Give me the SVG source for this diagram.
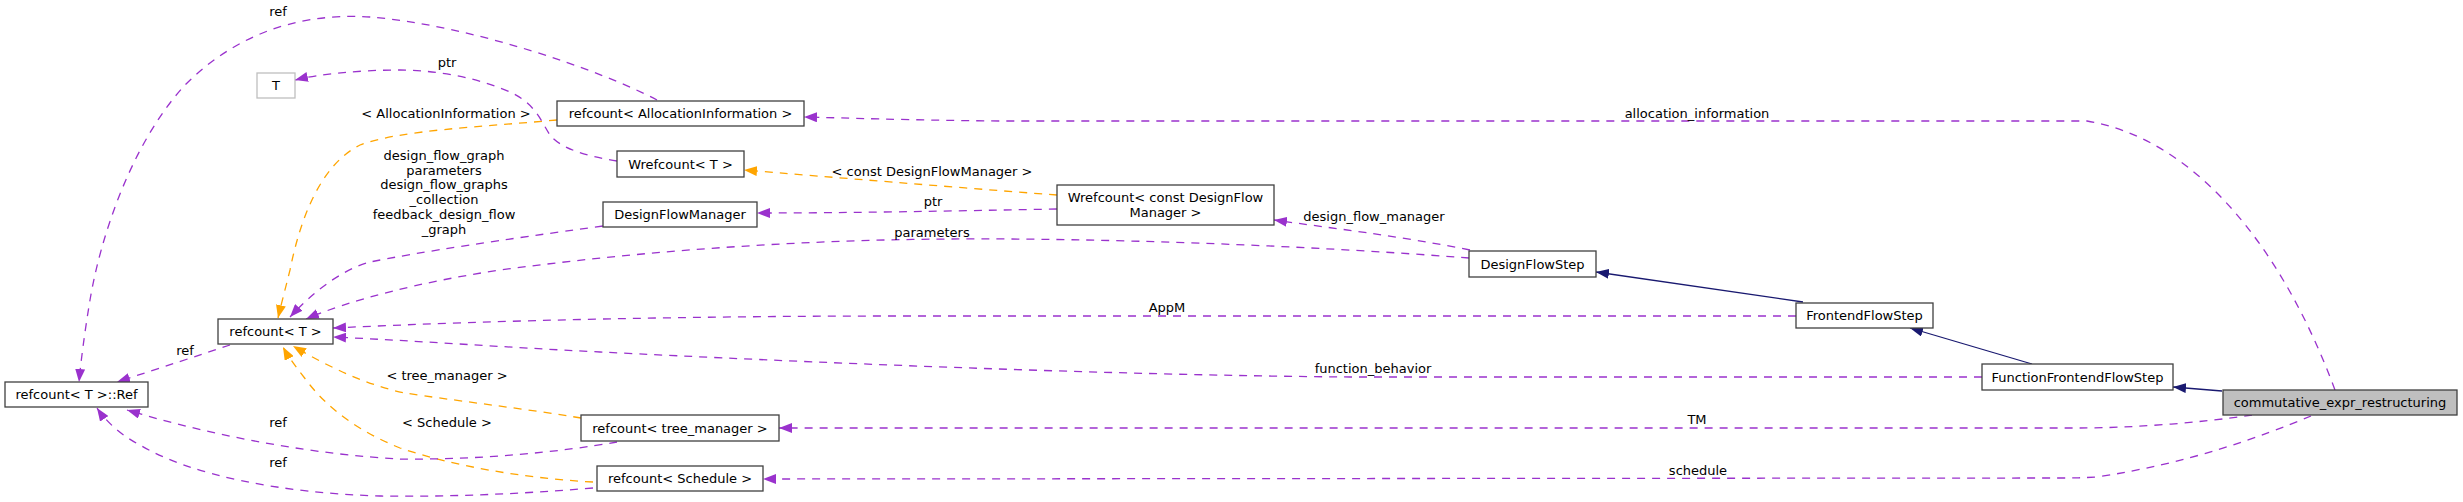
<svg xmlns="http://www.w3.org/2000/svg" width="2463" height="502" viewBox="0 0 2463 502">
<style>
text{font-family:"DejaVu Sans","Liberation Sans",sans-serif;font-size:13px;fill:#000;text-anchor:middle}
.box{fill:#fff;stroke:#404040;stroke-width:1.3}
.gbox{fill:#fff;stroke:#bfbfbf;stroke-width:1.3}
.cur{fill:#bfbfbf;stroke:#404040;stroke-width:1.3}
.p{fill:none;stroke:#9a32cd;stroke-width:1.3;stroke-dasharray:8,7;marker-end:url(#ap)}
.o{fill:none;stroke:#ffa500;stroke-width:1.3;stroke-dasharray:8,7;marker-end:url(#ao)}
.n{fill:none;stroke:#191970;stroke-width:1.3;marker-end:url(#an)}
</style>
<defs>
<marker id="ap" viewBox="0 0 13 10" refX="13" refY="5" markerWidth="13" markerHeight="10" markerUnits="userSpaceOnUse" orient="auto"><path d="M0,0L13,5L0,10z" fill="#9a32cd"/></marker>
<marker id="ao" viewBox="0 0 13 10" refX="13" refY="5" markerWidth="13" markerHeight="10" markerUnits="userSpaceOnUse" orient="auto"><path d="M0,0L13,5L0,10z" fill="#ffa500"/></marker>
<marker id="an" viewBox="0 0 13 10" refX="13" refY="5" markerWidth="13" markerHeight="10" markerUnits="userSpaceOnUse" orient="auto"><path d="M0,0L13,5L0,10z" fill="#191970"/></marker>
</defs>
<rect width="2463" height="502" fill="#fff"/>
<g id="connectors">
<path class="n" d="M2222,391L2173,387"/>
<path class="n" d="M2032,364L1910,328"/>
<path class="n" d="M1803,302L1596,272"/>
<path class="p" d="M2335,390C2285,255 2200,140 2087,121L1000,121C900,120 850,118 804,117"/>
<path class="p" d="M2252,415C2200,423 2130,428 2080,428L779,428"/>
<path class="p" d="M2311,416C2260,437 2190,463 2097,477C2080,478 2070,478 2050,478L763,479"/>
<path class="p" d="M1982,377L1350,377C1100,375 800,362 600,352C500,347 420,341 333,337"/>
<path class="p" d="M1796,316L900,316C700,316 500,320 333,328"/>
<path class="p" d="M1469,258C1300,245 1100,238 950,239C800,240 650,250 500,270C420,282 350,300 306,319"/>
<path class="p" d="M1470,250C1400,236 1330,228 1274,220"/>
<path class="p" d="M1057,209C950,211 850,213 757,213"/>
<path class="o" d="M1057,195C950,187 830,177 744,170"/>
<path class="p" d="M603,226C500,240 420,252 370,262C340,270 310,295 290,317"/>
<path class="o" d="M557,120C480,127 400,130 360,145C320,165 300,220 290,270C285,290 281,305 278,318"/>
<path class="p" d="M617,161C585,156 560,148 550,135C540,120 535,100 500,88C470,76 430,70 400,70C360,70 320,74 295,80"/>
<path class="p" d="M657,100C600,70 470,25 370,17C290,12 230,40 185,85C130,145 100,240 90,300C85,330 81,360 79,382"/>
<path class="o" d="M581,418C520,408 450,400 405,393C370,386 330,368 293,346"/>
<path class="o" d="M593,482C520,478 450,465 400,448C360,432 330,410 310,385C300,372 290,360 283,347"/>
<path class="p" d="M617,442C560,452 480,460 400,459C320,455 220,438 127,410"/>
<path class="p" d="M593,488C520,494 450,497 380,496C280,493 190,475 140,445C120,435 105,420 97,408"/>
<path class="p" d="M230,345C200,355 160,368 117,382"/>
<text x="1697" y="118">allocation_information</text>
<text x="1697" y="424">TM</text>
<text x="1698" y="475">schedule</text>
<text x="1373" y="373">function_behavior</text>
<text x="1167" y="312">AppM</text>
<text x="932" y="237">parameters</text>
<text x="1374" y="221">design_flow_manager</text>
<text x="933" y="206">ptr</text>
<text x="932" y="176">&lt; const DesignFlowManager &gt;</text>
<text x="444" y="160"><tspan x="444">design_flow_graph</tspan><tspan x="444" dy="14.7">parameters</tspan><tspan x="444" dy="14.7">design_flow_graphs</tspan><tspan x="444" dy="14.7">_collection</tspan><tspan x="444" dy="14.7">feedback_design_flow</tspan><tspan x="444" dy="14.7">_graph</tspan></text>
<text x="446" y="118">&lt; AllocationInformation &gt;</text>
<text x="447" y="67">ptr</text>
<text x="278" y="16">ref</text>
<text x="447" y="380">&lt; tree_manager &gt;</text>
<text x="447" y="427">&lt; Schedule &gt;</text>
<text x="185" y="355">ref</text>
<text x="278" y="427">ref</text>
<text x="278" y="467">ref</text>
</g>
<g id="node-commutative"><rect class="cur" x="2223" y="390" width="234" height="25"/><text x="2340" y="407">commutative_expr_restructuring</text></g>
<g id="node-FunctionFrontendFlowStep"><rect class="box" x="1982" y="364" width="191" height="26"/><text x="2077.5" y="381.5">FunctionFrontendFlowStep</text></g>
<g id="node-FrontendFlowStep"><rect class="box" x="1796" y="303" width="137" height="25"/><text x="1864.5" y="320">FrontendFlowStep</text></g>
<g id="node-DesignFlowStep"><rect class="box" x="1469" y="251" width="127" height="26"/><text x="1532.5" y="268.5">DesignFlowStep</text></g>
<g id="node-WrefcountConstDFM"><rect class="box" x="1057" y="185" width="217" height="40"/><text x="1165.5" y="201.5">Wrefcount&lt; const DesignFlow</text><text x="1165.5" y="216.5">Manager &gt;</text></g>
<g id="node-refcountAllocInfo"><rect class="box" x="557" y="101" width="247" height="25"/><text x="680.5" y="118">refcount&lt; AllocationInformation &gt;</text></g>
<g id="node-WrefcountT"><rect class="box" x="617" y="151" width="127" height="26"/><text x="680.5" y="168.5">Wrefcount&lt; T &gt;</text></g>
<g id="node-DesignFlowManager"><rect class="box" x="603" y="202" width="154" height="25"/><text x="680" y="219">DesignFlowManager</text></g>
<g id="node-refcountTreeManager"><rect class="box" x="581" y="415" width="198" height="26"/><text x="680" y="432.5">refcount&lt; tree_manager &gt;</text></g>
<g id="node-refcountSchedule"><rect class="box" x="597" y="466" width="166" height="25"/><text x="680" y="483">refcount&lt; Schedule &gt;</text></g>
<g id="node-T"><rect class="gbox" x="257" y="73" width="38" height="25"/><text x="276" y="90">T</text></g>
<g id="node-refcountT"><rect class="box" x="218" y="319" width="115" height="25"/><text x="275.5" y="336">refcount&lt; T &gt;</text></g>
<g id="node-refcountTRef"><rect class="box" x="5" y="382" width="143" height="25"/><text x="76.5" y="399">refcount&lt; T &gt;::Ref</text></g>
</svg>
